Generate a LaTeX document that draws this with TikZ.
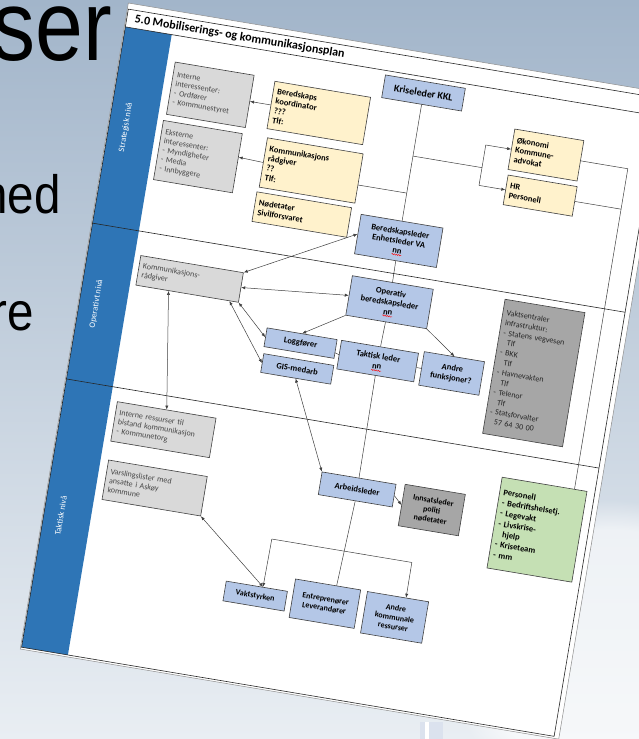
\documentclass[tikz,border=0pt]{standalone}
\usepackage{fontspec}
\setmainfont{Carlito}
\newfontfamily\slidefont{Liberation Sans}
\usetikzlibrary{arrows.meta,calc,decorations.pathmorphing,fadings}

\definecolor{bgtop}{HTML}{A2B5CA}
\definecolor{bgmid}{HTML}{CFD9E4}
\definecolor{bgbot}{HTML}{E9EEF3}
\definecolor{lanecol}{HTML}{2E75B6}
\definecolor{boxgray}{HTML}{D9D9D9}
\definecolor{boxdark}{HTML}{A6A6A6}
\definecolor{boxblue}{HTML}{B4C7E7}
\definecolor{boxyellow}{HTML}{FFF2CC}
\definecolor{boxgreen}{HTML}{C5E0B4}
\definecolor{linecol}{HTML}{404040}

\begin{document}
\begin{tikzpicture}[x=1pt, y=-1pt,
  box/.style={draw=linecol, line width=0.6pt, inner xsep=4, inner ysep=2},
  graybox/.style={box, fill=boxgray, text=black!72, align=left, font=\fontsize{8}{9.2}\selectfont},
  darkbox/.style={box, fill=boxdark, text=black!85, align=left, font=\fontsize{8}{10}\selectfont},
  yelbox/.style={box, fill=boxyellow, align=left, font=\bfseries\fontsize{8.5}{9.8}\selectfont},
  bluebox/.style={box, fill=boxblue, align=center, font=\bfseries\fontsize{8.5}{9.8}\selectfont},
  greenbox/.style={box, fill=boxgreen, align=left, font=\bfseries\fontsize{8.5}{10.5}\selectfont},
  lanelabel/.style={rotate=90, text=white, font=\fontsize{8.5}{10}\selectfont},
  conn/.style={draw=linecol, line width=0.5pt},
  arr/.style={conn, -{Latex[length=4,width=3.2]}},
  darr/.style={conn, {Latex[length=4,width=3.2]}-{Latex[length=4,width=3.2]}},
  spell/.style={draw=red, line width=0.4pt, decorate, decoration={snake, amplitude=0.6, segment length=2.2}}]

\useasboundingbox (0,0) rectangle (639,739);
\clip (0,0) rectangle (639,739);
\shade[top color=bgtop, middle color=bgmid, bottom color=bgbot] (0,0) rectangle (639,739);
\fill[white, opacity=0.6, path fading=circle with fuzzy edge 20 percent] (610,650) ellipse (170 and 150);
\fill[black!8!boxblue!40] (420,722) rectangle (443,739);
\fill[white] (425,722) rectangle (429,739);

\node[anchor=base east, inner sep=0, font=\slidefont\fontsize{100}{100}\selectfont] (tser) at (112,60) {\scalebox{0.86}[1]{ser}};
\node[anchor=base east, inner sep=0, font=\slidefont\fontsize{54}{54}\selectfont] (tned) at (61,213) {\scalebox{0.88}[1]{ned}};
\node[anchor=base east, inner sep=0, font=\slidefont\fontsize{54}{54}\selectfont] (tre) at (34,330) {\scalebox{0.88}[1]{re}};

\begin{scope}[shift={(128,5)}, rotate=-9.5, transform shape]
  \fill[white, draw=black!45, line width=0.5pt] (0,-2) rectangle (546,653);
  \fill[lanecol] (1,22) rectangle (48,651);
  \draw[black!85, line width=0.6pt] (1,4) rectangle (541,651);
  \draw[black!85, line width=0.6pt] (1,22) -- (541,22);
  \draw[black!85, line width=0.6pt] (1,221) -- (541,221);
  \draw[black!85, line width=0.6pt] (1,379) -- (541,379);
  \node[anchor=west, inner sep=0, font=\bfseries\fontsize{12}{14}\selectfont] (title) at (9,13) {5.0 Mobiliserings- og kommunikasjonsplan};

  \node[lanelabel] (lstrat) at (18,121) {Strategisk nivå};
  \node[lanelabel] (lop) at (18,300) {Operativt nivå};
  \node[lanelabel] (ltakt) at (18,515) {Taktisk nivå};

  \node[bluebox, minimum width=81, minimum height=23, font=\bfseries\fontsize{10}{12}\selectfont] (kkl) at (306,38) {Kriseleder KKL};
  \node[graybox, text width=72, minimum height=53] (intint) at (96,75) {Interne\\interessenter:\\- Ordfører\\- Kommunestyret};
  \node[graybox, text width=72, minimum height=60] (ekst) at (94,138) {Eksterne\\interessenter:\\- Myndigheter\\- Media\\- Innbyggere};
  \node[yelbox, text width=89, minimum height=48] (bkoord) at (206,75) {Beredskaps\\koordinator\\???\\Tlf:};
  \node[yelbox, text width=89, minimum height=50] (kraad) at (208,133) {Kommunikasjons\\rådgiver\\??\\Tlf:};
  \node[yelbox, text width=88, minimum height=30] (nodet) at (206,178) {Nødetater\\Sivilforsvaret};
  \node[yelbox, text width=62, minimum height=41] (okon) at (437,79) {Økonomi\\Kommune-\\advokat};
  \node[yelbox, text width=62, minimum height=30] (hr) at (438,120) {HR\\Personell};

  \node[bluebox, minimum width=83, minimum height=40] (bleder) at (306,188) {Beredskapsleder\\Enhetsleder VA\\nn};
  \node[graybox, text width=96, minimum height=30] (kraad2) at (106,260) {Kommunikasjons-\\rådgiver};
  \node[bluebox, minimum width=82, minimum height=40] (opleder) at (307,250) {Operativ\\beredskapsleder\\nn};
  \node[bluebox, minimum width=71, minimum height=19] (logg) at (226,305) {Loggfører};
  \node[bluebox, minimum width=71, minimum height=19] (gis) at (227,331) {GIS-medarb};
  \node[bluebox, minimum width=78, minimum height=29] (takt) at (305,310) {Taktisk leder\\nn};
  \node[bluebox, minimum width=61, minimum height=34] (andref) at (380,310) {Andre\\funksjoner?};
  \node[darkbox, text width=73, minimum height=136] (vakts) at (461,296) {Vaktsentraler\\infrastruktur:\\- Statens vegvesen\\\ \ Tlf\\- BKK\\\ \ Tlf\\- Havnevakten\\\ \ Tlf\\- Telenor\\\ \ Tlf\\- Statsforvalter\\\ \ 57 64 30 00};

  \node[graybox, text width=92, minimum height=40] (intres) at (105,413) {Interne ressurser til\\bistand kommunikasjon\\- Kommunetorg};
  \node[graybox, text width=92, minimum height=40] (varsl) at (106,472) {Varslingslister med\\ansatte i Askøy\\kommune};
  \node[bluebox, minimum width=75, minimum height=23] (arb) at (306,440) {Arbeidsleder};
  \node[box, fill=boxdark, align=center, font=\bfseries\fontsize{8}{9.6}\selectfont, minimum width=61, minimum height=42] (innsats) at (383,448) {Innsatsleder\\politi\\nødetater};
  \node[greenbox, text width=78, minimum height=92] (person) at (490,450) {Personell\\- Bedriftshelsetj.\\- Legevakt\\- Livskrise-\\\ \ hjelp\\- Kriseteam\\- mm};
  \node[bluebox, minimum width=62, minimum height=20, font=\bfseries\fontsize{8}{9.4}\selectfont] (vaktst) at (223,562) {Vaktstyrken};
  \node[bluebox, minimum width=66, minimum height=39, font=\bfseries\fontsize{8}{9.4}\selectfont] (entr) at (293,558) {Entreprenører\\Leverandører};
  \node[bluebox, minimum width=62, minimum height=42, font=\bfseries\fontsize{8}{9.4}\selectfont] (akom) at (364,560) {Andre\\kommunale\\ressurser};

  \draw[spell] (301,202) -- (311,202);
  \draw[spell] (302,264) -- (312,264);
  \draw[spell] (300,319.5) -- (310,319.5);

  \coordinate (jok) at (306,102);
  \coordinate (jok2) at (376,102);
  \coordinate (jokt) at (376,79);
  \coordinate (jhrb) at (376,120);
  \coordinate (jkr) at (306,139.5);
  \coordinate (rtop) at (520,79);
  \coordinate (rhr) at (520,120);
  \coordinate (dl) at (230,503);
  \coordinate (dr) at (372,503);

  \draw[conn] (kkl) -- (bleder) -- (opleder) -- (takt) -- (arb);
  \draw[conn] (arb.south) -- ($(entr.north west)!0.63!(entr.north east)$);
  \draw[conn] (jok) -- (jok2);
  \draw[conn] (jokt) -- (jhrb);
  \draw[arr] (jokt) -- (okon.west);
  \draw[arr] (jhrb) -- (hr.west);
  \draw[conn] (okon.east) -- (rtop) -- ($(person.north west)!0.85!(person.north east)$);
  \draw[conn] (hr.east) -- (rhr);
  \draw[conn] ($(kraad.north east)!0.63!(kraad.south east)$) -- (jkr);
  \draw[arr] (bkoord.west) -- (intint.east);
  \draw[arr] (kraad.west) -- ($(ekst.north east)!0.4!(ekst.south east)$);

  \draw[darr] (kraad2.north east) -- (bleder.west);
  \draw[darr] (kraad2.east) -- (opleder.west);
  \draw[darr] (kraad2.south east) -- (logg.west);
  \draw[darr] ($(kraad2.south west)!0.91!(kraad2.south east)$) -- (gis.west);
  \draw[darr] ($(kraad2.south west)!0.32!(kraad2.south east)$) -- (intres.north);
  \draw[arr] (opleder.south west) -- (logg.north);
  \draw[arr] (opleder.south east) -- (andref.north);
  \draw[conn] (takt.west) -- ($(logg.north east)!0.7!(logg.south east)$);
  \draw[conn] (takt.east) -- (andref.west);
  \draw[darr] (gis.south) -- (arb.north west);
  \draw[arr] (arb.east) -- (innsats.west);

  \draw[conn] (dl) -- (dr);
  \draw[arr] (dl) -- ($(vaktst.north west)!0.6!(vaktst.north east)$);
  \draw[arr] (dr) -- ($(akom.north west)!0.63!(akom.north east)$);
  \draw[darr] (varsl.south east) -- ($(vaktst.north west)!0.6!(vaktst.north east)$);
\end{scope}
\end{tikzpicture}
\end{document}
